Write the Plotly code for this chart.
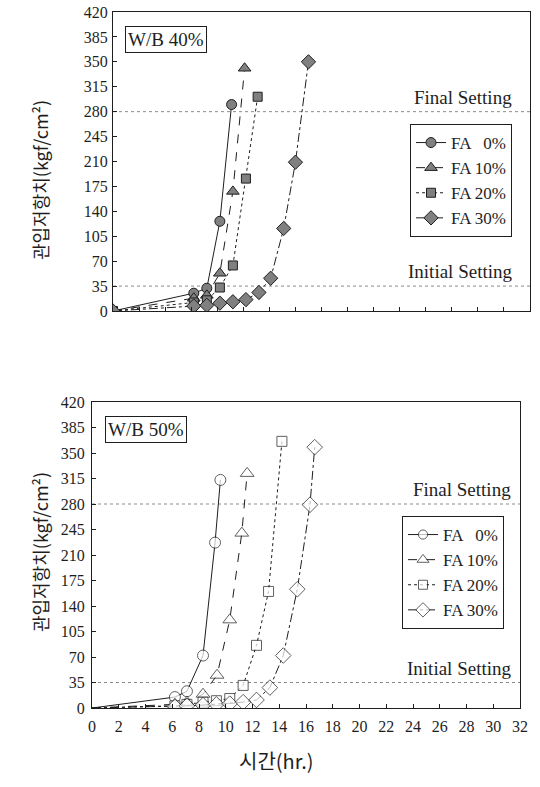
import plotly.graph_objects as go

# ---- data ----
series_names = ["FA \u20070%", "FA 10%", "FA 20%", "FA 30%"]
hour_ticks = list(range(0, 34, 2))
resist_ticks = list(range(0, 421, 35))
final_setting = 280
initial_setting = 35

# W/B 40%
wb40_fa0_t = [0, 6.2, 7.2, 8.2, 9.1]
wb40_fa0_v = [0, 25, 32, 126, 290]
wb40_fa10_t = [0, 6.2, 7.2, 8.2, 9.2, 10.1]
wb40_fa10_v = [0, 18, 22, 53, 168, 341]
wb40_fa20_t = [0, 6.2, 7.2, 8.2, 9.2, 10.2, 11.1]
wb40_fa20_v = [0, 12, 15, 33, 64, 186, 301]
wb40_fa30_t = [0, 6.2, 7.2, 8.2, 9.2, 10.2, 11.2, 12.1, 13.1, 14.0, 15.0]
wb40_fa30_v = [0, 7, 8, 11, 13, 16, 26, 46, 116, 209, 350]

# W/B 50%
wb50_fa0_t = [0, 6.2, 7.1, 8.3, 9.2, 9.6]
wb50_fa0_v = [0, 15, 23, 72, 227, 313]
wb50_fa10_t = [0, 6.2, 7.1, 8.3, 9.35, 10.3, 11.2, 11.6]
wb50_fa10_v = [0, 5, 8, 19, 45, 121, 240, 322]
wb50_fa20_t = [0, 6.2, 7.1, 8.3, 9.3, 10.3, 11.3, 12.3, 13.2, 14.2]
wb50_fa20_v = [0, 3, 5, 8, 10, 13, 31, 86, 160, 366]
wb50_fa30_t = [0, 6.2, 7.1, 8.3, 9.3, 10.3, 11.3, 12.3, 13.3, 14.3, 15.35, 16.3, 16.65]
wb50_fa30_v = [0, 2, 3, 4, 5, 6, 8, 11, 28, 72, 163, 279, 358]

top_series = [(wb40_fa0_t, wb40_fa0_v), (wb40_fa10_t, wb40_fa10_v),
              (wb40_fa20_t, wb40_fa20_v), (wb40_fa30_t, wb40_fa30_v)]
bot_series = [(wb50_fa0_t, wb50_fa0_v), (wb50_fa10_t, wb50_fa10_v),
              (wb50_fa20_t, wb50_fa20_v), (wb50_fa30_t, wb50_fa30_v)]

# ---- styles ----
SERIF = "Liberation Serif"
KR = "Noto Sans CJK KR"
INK = "#1e1e1e"
symbols = ["circle", "triangle-up", "square", "diamond"]
top_sizes = [10, 11, 9, 11]
bot_sizes = [11, 12, 10, 12]
dashes = ["solid", "dash", "dot", "dashdot"]

W, H = 540, 787
def px_x(p): return p / W
def px_y(p): return 1 - p / H

fig = go.Figure()

for i, (t, v) in enumerate(top_series):
    fig.add_trace(go.Scatter(
        x=t, y=v, mode="lines+markers", name=series_names[i],
        line=dict(color=INK, width=1, dash=dashes[i]),
        marker=dict(symbol=symbols[i], size=top_sizes[i], color="#808080",
                    line=dict(color=INK, width=1)),
        xaxis="x", yaxis="y", legend="legend"))

for i, (t, v) in enumerate(bot_series):
    msize = [0] + [bot_sizes[i]] * (len(t) - 1)
    fig.add_trace(go.Scatter(
        x=t, y=v, mode="lines+markers", name=series_names[i],
        line=dict(color=INK, width=1, dash=dashes[i]),
        marker=dict(symbol=symbols[i], size=msize, color="white",
                    line=dict(color=INK, width=1)),
        xaxis="x2", yaxis="y2", legend="legend2"))

axis_common = dict(showgrid=False, zeroline=False, showline=True, automargin=False,
                   linecolor=INK, linewidth=1, mirror=True, ticks="inside",
                   ticklen=4, tickcolor=INK,
                   tickfont=dict(family=SERIF, size=16, color=INK))

fig.update_layout(
    width=W, height=H, margin=dict(l=0, r=0, t=0, b=0, pad=0, autoexpand=False),
    autosize=False,
    plot_bgcolor="white", paper_bgcolor="white", showlegend=True,
    xaxis=dict(axis_common, domain=[px_x(113), px_x(530)], range=[0, 32],
               tickvals=hour_ticks, showticklabels=False, anchor="y"),
    yaxis=dict(axis_common, domain=[px_y(311), px_y(12)], range=[0, 420],
               tickvals=resist_ticks, anchor="x", ticklabelstandoff=1),
    xaxis2=dict(axis_common, domain=[px_x(92), px_x(520)], range=[0, 32],
                tickvals=hour_ticks, anchor="y2", ticklabelstandoff=4),
    yaxis2=dict(axis_common, domain=[px_y(708), px_y(402)], range=[0, 420],
                tickvals=resist_ticks, anchor="x2", ticklabelstandoff=3),
    legend=dict(x=px_x(410), y=px_y(124), xanchor="left", yanchor="top",
                bgcolor="white", bordercolor=INK, borderwidth=1,
                font=dict(family=SERIF, size=17, color=INK),
                itemwidth=30, tracegroupgap=0),
    legend2=dict(x=px_x(402), y=px_y(516), xanchor="left", yanchor="top",
                 bgcolor="white", bordercolor=INK, borderwidth=1,
                 font=dict(family=SERIF, size=17, color=INK),
                 itemwidth=30, tracegroupgap=0),
)

# setting lines
for xr, yr in [("x", "y"), ("x2", "y2")]:
    for lvl in (final_setting, initial_setting):
        fig.add_shape(type="line", xref=xr, yref=yr, x0=0, x1=32, y0=lvl, y1=lvl,
                      line=dict(color="#8a8a8a", width=1, dash="dot"), layer="below")

ann = []
for yr, xpos in [("y", 514), ("y2", 513)]:
    ann.append(dict(text="Final Setting", xref="paper", yref=yr, x=px_x(xpos), y=final_setting,
                    xanchor="right", yanchor="bottom", yshift=2, showarrow=False,
                    font=dict(family=SERIF, size=19, color=INK)))
    ann.append(dict(text="Initial Setting", xref="paper", yref=yr, x=px_x(xpos), y=initial_setting,
                    xanchor="right", yanchor="bottom", yshift=2, showarrow=False,
                    font=dict(family=SERIF, size=19, color=INK)))
ann.append(dict(text="W/B 40%", xref="paper", yref="paper", x=px_x(125), y=px_y(26),
                xanchor="left", yanchor="top", showarrow=False, bordercolor=INK,
                borderwidth=1, borderpad=2, bgcolor="white",
                font=dict(family=SERIF, size=19, color=INK)))
ann.append(dict(text="W/B 50%", xref="paper", yref="paper", x=px_x(105), y=px_y(416),
                xanchor="left", yanchor="top", showarrow=False, bordercolor=INK,
                borderwidth=1, borderpad=2, bgcolor="white",
                font=dict(family=SERIF, size=19, color=INK)))
ytitle = "관입저항치(kgf/cm²)"
ann.append(dict(text=ytitle, xref="paper", yref="paper", x=px_x(40), y=px_y(180),
                textangle=-90, showarrow=False, xanchor="center", yanchor="middle",
                font=dict(family=KR, size=18, color=INK)))
ann.append(dict(text=ytitle, xref="paper", yref="paper", x=px_x(40), y=px_y(552),
                textangle=-90, showarrow=False, xanchor="center", yanchor="middle",
                font=dict(family=KR, size=18, color=INK)))
ann.append(dict(text="시간(hr.)", xref="paper", yref="paper", x=px_x(276), y=px_y(760),
                showarrow=False, xanchor="center", yanchor="middle",
                font=dict(family=KR, size=20, color=INK)))
fig.update_layout(annotations=ann)

fig.write_html("out.html", config={"displayModeBar": False})

# remove default page margin so the figure sits at the window origin
with open("out.html", encoding="utf-8") as f:
    html = f.read()
html = html.replace("<body>", '<body style="margin:0;overflow:hidden">', 1)
with open("out.html", "w", encoding="utf-8") as f:
    f.write(html)
